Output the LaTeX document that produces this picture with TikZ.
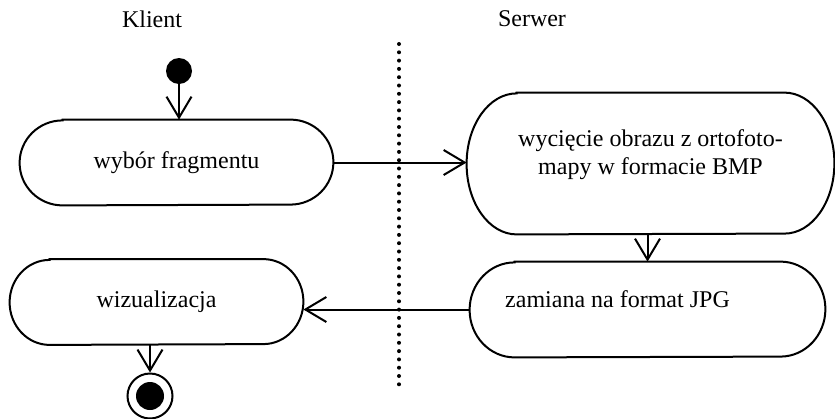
\documentclass[tikz,border=0pt]{standalone}
\usepackage{fontspec}
\setmainfont{Liberation Serif}
\usetikzlibrary{arrows.meta}

\tikzset{
    activity/.style={
        rectangle,
        inner sep=0pt
    },
    initial/.style={
        circle,
        fill=black,
        inner sep=0pt,
        minimum size=13pt
    },
    final/.style={
        circle,
        draw,
        line width=1pt,
        inner sep=0pt,
        minimum size=22.5pt,
        path picture={\fill (path picture bounding box.center) circle (7pt);}
    },
    flow/.style={
        -{Straight Barb[length=10.5pt,width=12.5pt]},
        line width=1pt
    },
    lane/.style={
        line width=2pt,
        line cap=round,
        dash pattern=on 0pt off 4.15pt
    }
}

\begin{document}
\begin{tikzpicture}[x=0.5pt, y=-0.5pt]
\fontsize{12}{14}\selectfont
\useasboundingbox (0,0) rectangle (835,418);

    % Nagłówki torów
    \path
        node at (152,19) (klient) {Klient}
        node at (532,19) (serwer) {Serwer};

    % Linia podziału
    \draw[lane] (399,44) -- (399,390);

    % Stan początkowy i końcowy
    \path
        node[initial] at (179, 71) (start) {}
        node[final]   at (150,396) (stop)  {};

    % Czynności
    \path
        node[activity, minimum width=156.5pt, minimum height=42.5pt]
            at (176.5,162.5) (wybor) {wybór fragmentu}
        node[activity, minimum width=183.5pt, minimum height=70.5pt,
             label={[align=center, yshift=4.5pt]center:wycięcie obrazu z ortofoto-\\mapy w formacie BMP}]
            at (650.5,163.5) (wyciecie) {}
        node[activity, minimum width=177.5pt, minimum height=47.5pt,
             label={[shift={(-15pt,5pt)}]center:zamiana na format JPG}]
            at (647.5,309.5) (zamiana) {}
        node[activity, minimum width=146.5pt, minimum height=42.5pt]
            at (156.5,302) (wizualizacja) {wizualizacja};

    % Obrys czynności (narożniki eliptyczne)
    \foreach \n/\rx/\ry in {wybor/21.5pt/21.25pt, wyciecie/25pt/35.25pt,
                            zamiana/22.5pt/23.75pt, wizualizacja/20pt/21.25pt}
        \draw[line width=1pt]
            ([xshift=\rx]\n.north west) -- ([xshift=-\rx]\n.north east)
            arc[start angle=90, end angle=-90, x radius=\rx, y radius=\ry]
            -- ([xshift=\rx]\n.south west)
            arc[start angle=270, end angle=90, x radius=\rx, y radius=\ry]
            -- cycle;

    % Przepływ sterowania
    \path[flow]
        (start)          edge (start |- wybor.north)
        (wybor.east)     edge (wybor.east -| wyciecie.west)
        (zamiana.north |- wyciecie.south) edge (zamiana.north)
        (zamiana.west)   edge (zamiana.west -| wizualizacja.east)
        (stop |- wizualizacja.south) edge (stop);
\end{tikzpicture}
\end{document}
